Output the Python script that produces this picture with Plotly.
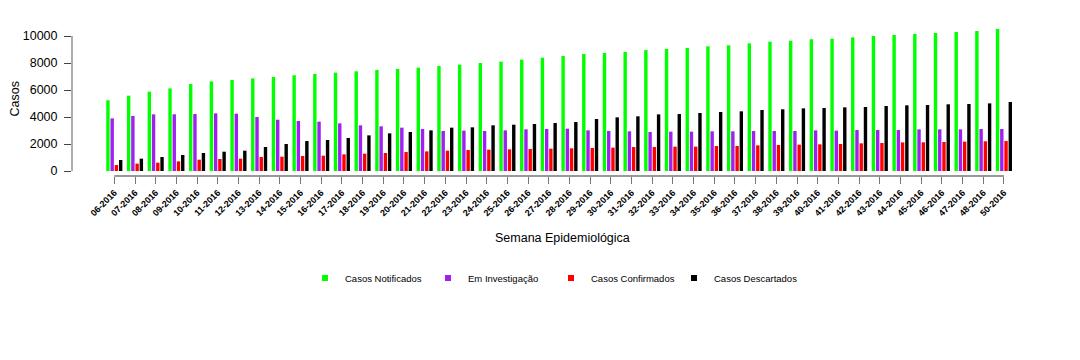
import plotly.graph_objects as go

weeks = ["%02d-2016" % w for w in list(range(6, 49)) + [50]]

notificados = [5240, 5580, 5880, 6120, 6440, 6640, 6740, 6860, 6960, 7090, 7185, 7285,
               7385, 7480, 7555, 7655, 7780, 7880, 8000, 8100, 8250, 8395, 8520, 8665,
               8740, 8815, 8960, 9040, 9110, 9235, 9310, 9455, 9580, 9655, 9755, 9800,
               9900, 10000, 10075, 10150, 10220, 10295, 10370, 10520]
investigacao = [3900, 4075, 4195, 4200, 4220, 4270, 4245, 4000, 3800, 3705, 3655, 3530,
                3385, 3310, 3210, 3110, 2965, 2990, 2965, 3010, 3085, 3110, 3135, 3010,
                2965, 2940, 2890, 2915, 2915, 2940, 2940, 2965, 2965, 2965, 3010, 2990,
                3035, 3035, 3035, 3085, 3085, 3085, 3110, 3110]
confirmados = [445, 545, 615, 715, 840, 890, 915, 1035, 1060, 1110, 1135, 1235,
               1285, 1335, 1405, 1455, 1505, 1555, 1580, 1605, 1630, 1655, 1680, 1705,
               1730, 1775, 1780, 1800, 1805, 1850, 1855, 1900, 1925, 1950, 1975, 2000,
               2050, 2075, 2120, 2125, 2150, 2175, 2200, 2220]
descartados = [815, 915, 1035, 1185, 1335, 1430, 1505, 1780, 2000, 2220, 2295, 2445,
               2640, 2790, 2890, 3010, 3210, 3235, 3385, 3430, 3480, 3555, 3630, 3850,
               3975, 4050, 4195, 4220, 4295, 4370, 4420, 4520, 4570, 4640, 4665, 4715,
               4740, 4815, 4865, 4890, 4940, 4965, 5010, 5110]

series = [
    ("Casos Notificados", notificados, "#00FF00"),
    ("Em Investigação", investigacao, "#A020F0"),
    ("Casos Confirmados", confirmados, "#FF0000"),
    ("Casos Descartados", descartados, "#000000"),
]
y_ticks = [0, 2000, 4000, 6000, 8000, 10000]
y_tick_text = [str(v) for v in y_ticks]

fig = go.Figure()
for name, vals, col in series:
    fig.add_trace(go.Bar(x=weeks, y=vals, name=name, marker_color=col,
                         marker_line_width=0, showlegend=False))
for name, vals, col in series:
    fig.add_trace(go.Scatter(x=[None], y=[None], mode="markers", name=name,
                             marker=dict(symbol="square", size=6, color=col)))

# page body has a default 8px margin, so the figure is 8px smaller than the window
fig.update_layout(
    width=1072, height=352,
    margin=dict(l=64, r=50, t=15, b=184, pad=0, autoexpand=False),
    paper_bgcolor="white", plot_bgcolor="white",
    barmode="group", bargap=0.18, bargroupgap=0.2,
    font=dict(family="Liberation Sans, Arial, sans-serif", color="#000"),
    legend=dict(orientation="h", x=0.5, xanchor="center", y=-0.667, yanchor="middle",
                font=dict(size=9.5), entrywidth=78, entrywidthmode="pixels",
                itemsizing="trace", itemwidth=30),
    annotations=[
        dict(text="Semana Epidemiológica", xref="paper", yref="paper",
             x=0.5115, y=-0.405, xanchor="center", yanchor="middle",
             showarrow=False, font=dict(size=12.5)),
        dict(text="Casos", xref="paper", yref="paper", textangle=-90,
             x=-0.0605, y=0.5, xanchor="center", yanchor="middle",
             showarrow=False, font=dict(size=12.5)),
    ],
)
fig.update_xaxes(
    type="category", range=[-2.045, 44.26], showgrid=False, showline=False, zeroline=False,
    automargin=False,
    ticks="outside", ticklen=7, tickcolor="#777", tickangle=-45,
    tickfont=dict(size=9, weight="bold"),
)
fig.update_yaxes(
    range=[-370.4, 10963], showgrid=False, showline=False, zeroline=False,
    automargin=False,
    tickvals=y_ticks, ticktext=y_tick_text, ticks="outside", ticklen=7, tickcolor="#444",
    tickfont=dict(size=12.5), ticklabelstandoff=4,
)
fig.add_shape(type="line", xref="paper", yref="y", x0=0, x1=0,
              y0=y_ticks[0], y1=y_ticks[-1], line=dict(color="#777", width=1.2))
fig.add_shape(type="line", xref="x", yref="paper", x0=weeks[0], x1=weeks[-1],
              y0=0, y1=0, line=dict(color="#333", width=1.2))

fig.write_html("out.html")
